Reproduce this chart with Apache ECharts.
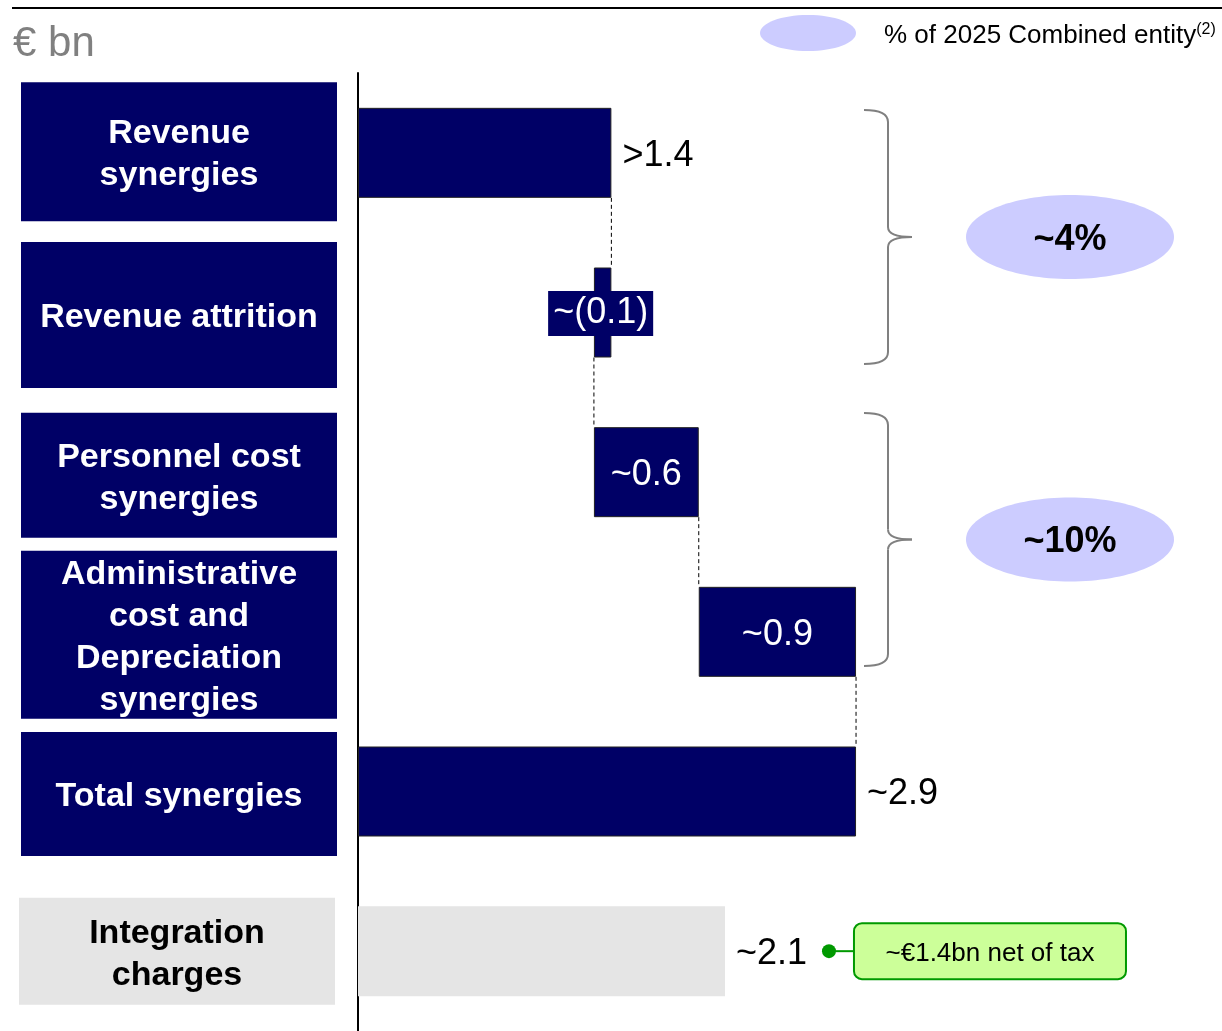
<!DOCTYPE html>
<html>
<head>
<meta charset="utf-8">
<script src="https://cdn.jsdelivr.net/npm/echarts@6/dist/echarts.min.js"></script>
<style>
  html, body { margin: 0; padding: 0; background: #fff; }
  #chart { width: 1222px; height: 1031px; }
</style>
</head>
<body>
<div id="chart"></div>
<script>
// ---- data ----
const categories = ['Revenue synergies', 'Revenue attrition', 'Personnel cost synergies',
  'Administrative cost and Depreciation synergies', 'Total synergies', 'Integration charges'];
const categoryLines = [['Revenue', 'synergies'], ['Revenue attrition'], ['Personnel cost', 'synergies'],
  ['Administrative', 'cost and', 'Depreciation', 'synergies'], ['Total synergies'], ['Integration', 'charges']];
const synergySteps = [1.45, -0.1, 0.6, 0.9];   // € bn, waterfall movements
const integrationCharges = 2.1;                 // € bn
const valueLabels = ['>1.4', '~(0.1)', '~0.6', '~0.9', '~2.9', '~2.1'];
const shareLabels = ['~4%', '~10%'];
const unitText = '€ bn';
const legendText = '% of 2025 Combined entity';
const legendNote = '(2)';
const netOfTaxText = '~€1.4bn net of tax';

// ---- layout / style ----
const FONT = '"Liberation Sans", Arial, Helvetica, sans-serif';
const NAVY = '#000066';
const LAVENDER = '#ccccff';
const GREY_BOX = '#e5e5e5';
const GREEN = '#009900';
const BAR_W = 90;
const boxHeights = [139, 146, 125, 168, 124, 107];
const boxShift = [-1, 2.5, 3, 3, 2.5, 0];

// waterfall: invisible base + visible segment
const baseVals = [], segVals = [], stepEnds = [];
let running = 0;
synergySteps.forEach(s => {
  const start = running;
  running = +(running + s).toFixed(4);
  baseVals.push(Math.min(start, running));
  segVals.push(Math.abs(s));
  stepEnds.push(running);
});
const totalSynergies = running;
baseVals.push(0); segVals.push(totalSynergies);
baseVals.push(0); segVals.push(integrationCharges);

const labelOutside = { show: true, position: 'right', distance: 11, offset: [0, 3], color: '#000', fontSize: 36, fontFamily: FONT };
const labelInside = { show: true, position: 'inside', offset: [0, 3], color: '#fff', fontSize: 36, fontFamily: FONT };

const segData = segVals.map((v, i) => {
  const item = { value: v, itemStyle: { color: NAVY, borderColor: '#222', borderWidth: 1 } };
  if (i === 0 || i === 4) item.label = labelOutside;
  else if (i === 1) item.label = Object.assign({}, labelInside,
    { backgroundColor: NAVY, padding: [5, 5, 4, 5], offset: [-2, 1] });
  else if (i === 5) {
    item.itemStyle = { color: GREY_BOX, borderWidth: 0 };
    item.label = labelOutside;
  } else item.label = labelInside;
  return item;
});

const chart = echarts.init(document.getElementById('chart'), null, { renderer: 'canvas' });

chart.setOption({
  animation: false,
  backgroundColor: '#fff',
  grid: { left: 358, right: 165, top: 73, bottom: 0, containLabel: false },
  xAxis: { type: 'value', min: 0, max: 4, show: false },
  yAxis: {
    type: 'category', data: categories, inverse: true,
    axisLine: { show: true, lineStyle: { color: '#000', width: 2 } },
    axisTick: { show: false }, axisLabel: { show: false }, splitLine: { show: false }
  },
  series: [
    {
      name: 'base', type: 'bar', stack: 'w', barWidth: BAR_W, silent: true,
      itemStyle: { color: 'transparent' }, data: baseVals
    },
    {
      name: 'value', type: 'bar', stack: 'w', barWidth: BAR_W,
      label: { formatter: p => valueLabels[p.dataIndex] },
      data: segData
    },
    {
      // dashed connectors between consecutive waterfall bars
      name: 'connectors', type: 'custom', silent: true, z: 1,
      data: stepEnds.map((e, i) => [e, i]),
      renderItem: (params, api) => {
        const i = api.value(1);
        const p1 = api.coord([api.value(0), i]);
        const p2 = api.coord([api.value(0), i + 1]);
        return {
          type: 'line',
          shape: { x1: p1[0], y1: p1[1] + BAR_W / 2, x2: p2[0], y2: p2[1] - BAR_W / 2 },
          style: { stroke: '#000', lineWidth: 1, lineDash: [4, 3] }
        };
      }
    }
  ]
});

// ---- annotations ----
const yPix = i => chart.convertToPixel({ yAxisIndex: 0 }, categories[i]);
const xPix = v => chart.convertToPixel({ xAxisIndex: 0 }, v);
const mid = { textAlign: 'center', textVerticalAlign: 'middle', align: 'center', verticalAlign: 'middle' };
const leftMid = { textAlign: 'left', textVerticalAlign: 'middle', align: 'left', verticalAlign: 'middle' };

const g = [];
g.push({ type: 'line', shape: { x1: 12, y1: 8, x2: 1222, y2: 8 }, style: { stroke: '#000', lineWidth: 2 } });
g.push({ type: 'text', style: Object.assign({ text: unitText, x: 13, y: 44, fill: '#808080', font: '42px ' + FONT }, leftMid) });
g.push({ type: 'ellipse', shape: { cx: 808, cy: 33, rx: 48, ry: 18 }, style: { fill: LAVENDER } });
g.push({ type: 'text', style: Object.assign({
  text: '{a|' + legendText + '}{s|' + legendNote + '}', x: 884, y: 36,
  rich: {
    a: { fontSize: 26, fontFamily: FONT, fill: '#000', color: '#000' },
    s: { fontSize: 16, fontFamily: FONT, fill: '#000', color: '#000', verticalAlign: 'top', padding: [0, 0, 12, 0] }
  }
}, leftMid) });

// category boxes
categoryLines.forEach((lines, i) => {
  const cy = yPix(i) + boxShift[i];
  const h = boxHeights[i];
  const last = i === categoryLines.length - 1;
  const x0 = last ? 19 : 21;
  g.push({ type: 'rect', shape: { x: x0, y: cy - h / 2, width: 316, height: h },
    style: { fill: last ? GREY_BOX : NAVY } });
  g.push({ type: 'text', style: Object.assign({
    text: lines.join('\n'), x: x0 + 158, y: cy + 3,
    font: 'bold 34px ' + FONT, fill: last ? '#000' : '#fff', lineHeight: 42
  }, mid) });
});

// curly braces with share ellipses
const braces = [[110, 364], [413, 666]];
const braceStyle = { stroke: '#808080', lineWidth: 2, fill: null };
braces.forEach(([t, b], k) => {
  const m = (t + b) / 2;
  const xs = 864, xm = 888, xp = 912;
  g.push({ type: 'bezierCurve', shape: { x1: xs, y1: t, x2: xm, y2: t + 12, cpx1: xm, cpy1: t }, style: braceStyle });
  g.push({ type: 'line', shape: { x1: xm, y1: t + 12, x2: xm, y2: m - 10 }, style: braceStyle });
  g.push({ type: 'bezierCurve', shape: { x1: xm, y1: m - 10, x2: xp, y2: m, cpx1: xm, cpy1: m }, style: braceStyle });
  g.push({ type: 'bezierCurve', shape: { x1: xp, y1: m, x2: xm, y2: m + 10, cpx1: xm, cpy1: m }, style: braceStyle });
  g.push({ type: 'line', shape: { x1: xm, y1: m + 10, x2: xm, y2: b - 12 }, style: braceStyle });
  g.push({ type: 'bezierCurve', shape: { x1: xm, y1: b - 12, x2: xs, y2: b, cpx1: xm, cpy1: b }, style: braceStyle });
  g.push({ type: 'ellipse', shape: { cx: 1070, cy: m, rx: 104, ry: 42 }, style: { fill: LAVENDER } });
  g.push({ type: 'text', style: Object.assign({ text: shareLabels[k], x: 1070, y: m + 3,
    font: 'bold 36px ' + FONT, fill: '#000' }, mid) });
});

// net-of-tax callout next to integration charges
const icY = yPix(5);
const dotX = xPix(integrationCharges) + 104;
g.push({ type: 'line', shape: { x1: dotX, y1: icY, x2: dotX + 26, y2: icY }, style: { stroke: GREEN, lineWidth: 2 } });
g.push({ type: 'circle', shape: { cx: dotX, cy: icY, r: 7 }, style: { fill: GREEN } });
g.push({ type: 'rect', shape: { x: dotX + 25, y: icY - 28, width: 272, height: 56, r: 8 },
  style: { fill: '#ccff99', stroke: GREEN, lineWidth: 2 } });
g.push({ type: 'text', style: Object.assign({ text: netOfTaxText, x: dotX + 25 + 136, y: icY + 3,
  font: '26px ' + FONT, fill: '#000' }, mid) });

chart.setOption({ graphic: { elements: g } });
</script>
</body>
</html>
